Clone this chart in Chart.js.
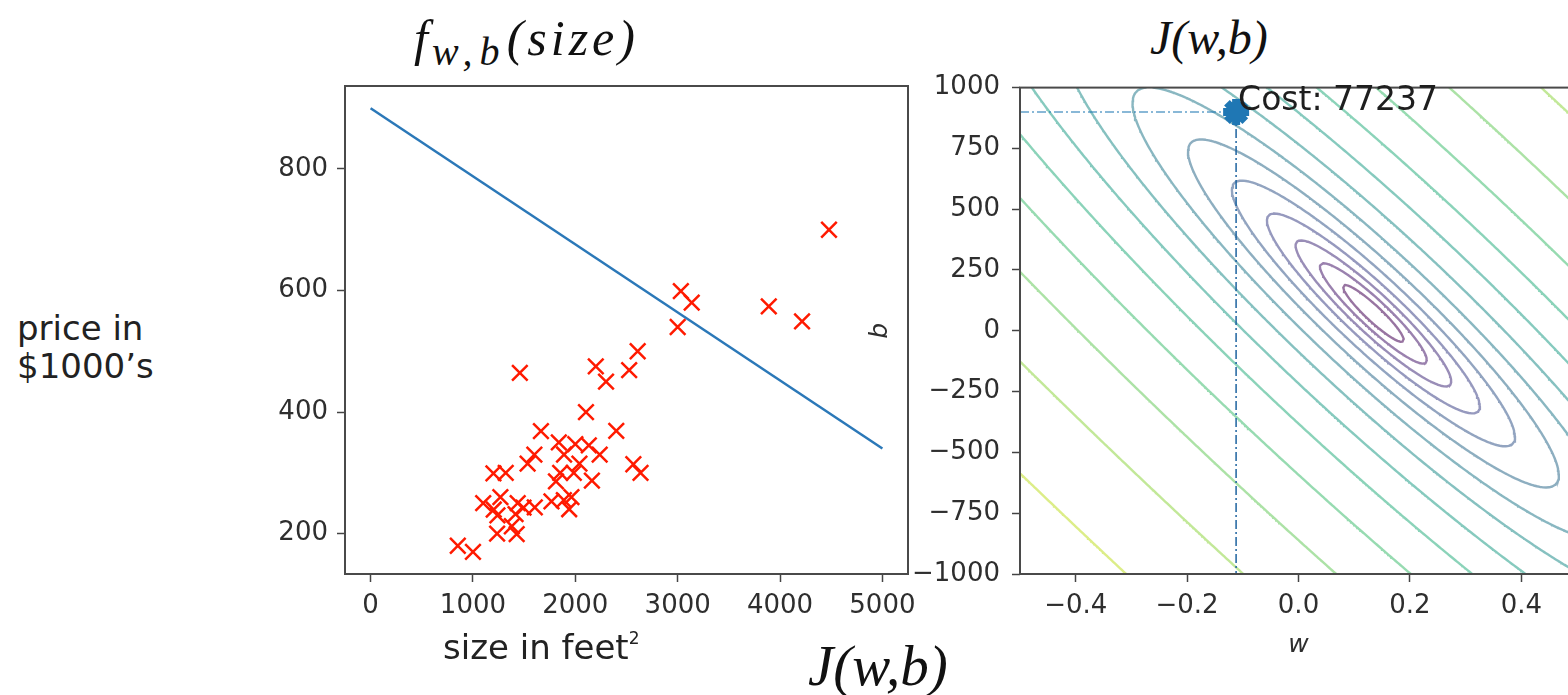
<!DOCTYPE html>
<html lang="en">
<head>
<meta charset="UTF-8">
<title>f(size) e J(w,b)</title>
<script src="https://cdn.jsdelivr.net/npm/chart.js"></script>
<style>
  html, body { margin: 0; padding: 0; background: #fff; }
  body { width: 1568px; height: 695px; overflow: hidden; position: relative; font-family: "DejaVu Sans", sans-serif; }
  .box { position: absolute; }
  #leftBox { left: 200px; top: 60px; width: 730px; height: 610px; }
  #rightBox { left: 860px; top: 60px; width: 740px; height: 620px; }
  .math { position: absolute; font-family: "Liberation Serif", serif; font-style: italic; color: #111; white-space: nowrap; line-height: 1; }
  .math sub { font-size: 0.8em; vertical-align: -0.26em; letter-spacing: 7px; margin-left: 4px; }
  .wide { letter-spacing: 4px; }
  .slide { position: absolute; font-size: 34px; color: #222; line-height: 38px; white-space: nowrap; }
  .slide sup { font-size: 0.5em; vertical-align: 0.9em; }
</style>
</head>
<body>
  <div class="math" style="left:414px; top:13px; font-size:50px;">f<sub>w,b</sub><span class="wide">(size)</span></div>
  <div class="math" style="left:1150px; top:14px; font-size:48px;">J(w,b)</div>
  <div class="slide" style="left:17px; top:309px;">price in<br>$1000’s</div>

  <div class="box" id="leftBox"><canvas id="leftChart"></canvas></div>
  <div class="box" id="rightBox"><canvas id="rightChart"></canvas></div>

  <div class="slide" style="left:443px; top:619px;">size in feet<sup>2</sup></div>
  <div class="math" style="left:808px; top:637px; font-size:57px;">J(w,b)</div>

<script>
    // dados das casas (tamanho em pés², preço em $1000)
    const sizes = [2104, 1600, 2400, 1416, 3000, 1985, 1534, 1427, 1380, 1494, 1940, 2000, 1890, 4478, 1268, 2300,
        1320, 1236, 2609, 3031, 1767, 1888, 1604, 1962, 3890, 1100, 1458, 2526, 2200, 2637, 1839, 1000,
        2040, 3137, 1811, 1437, 1239, 2132, 4215, 2162, 1664, 2238, 2567, 1200, 852, 1852, 1203];
    const prices = [399.9, 329.9, 369.0, 232.0, 539.9, 299.9, 314.9, 199.0, 212.0, 242.5, 240.0, 347.0, 330.0, 699.9, 259.9, 449.9,
        299.9, 199.9, 500.0, 599.0, 252.9, 255.0, 242.9, 259.9, 573.9, 249.9, 464.5, 469.0, 475.0, 299.9, 349.9, 169.9,
        314.9, 579.9, 285.9, 249.9, 229.9, 345.0, 549.0, 287.0, 368.5, 329.9, 314.0, 299.0, 179.9, 299.9, 239.5];

    // reta f_wb desenhada
    const lineX = [0, 5000];
    const lineY = [900, 340];

    const leftXTicks = [0, 1000, 2000, 3000, 4000, 5000];
    const leftXLabels = ['0', '1000', '2000', '3000', '4000', '5000'];
    const leftYTicks = [200, 400, 600, 800];
    const leftYLabels = ['200', '400', '600', '800'];
    const leftXRange = [-250, 5250];
    const leftYRange = [133.4, 936.5];

    // ponto atual no contorno
    const currentW = -0.112;
    const currentB = 900;
    const costText = 'Cost: 77237';

    const wTicks = [-0.4, -0.2, 0, 0.2, 0.4];
    const wLabels = ['\u22120.4', '\u22120.2', '0.0', '0.2', '0.4'];
    const bTicks = [-1000, -750, -500, -250, 0, 250, 500, 750, 1000];
    const bLabels = ['\u22121000', '\u2212750', '\u2212500', '\u2212250', '0', '250', '500', '750', '1000'];
    const wRange = [-0.5, 0.5];
    const bRange = [-1000, 1000];

    // niveis do contorno em ln(J)
    const levels = [8, 8.5, 9, 9.5, 10, 10.5, 11, 11.5, 12, 12.5, 13, 13.5, 14, 14.5];
    const colorRange = [8, 15.2];

    const viridis = ['#440154', '#482475', '#414487', '#355f8d', '#2a788e', '#21918c', '#22a884', '#44bf70', '#7ad151', '#bddf26', '#fde725'];

    function viridisColor(t, alpha) {
        const p = Math.max(0, Math.min(1, t)) * (viridis.length - 1);
        const i = Math.min(Math.floor(p), viridis.length - 2);
        const f = p - i;
        const c1 = parseInt(viridis[i].slice(1), 16), c2 = parseInt(viridis[i + 1].slice(1), 16);
        const ch = s => Math.round(((c1 >> s) & 255) * (1 - f) + ((c2 >> s) & 255) * f);
        return `rgba(${ch(16)},${ch(8)},${ch(0)},${alpha})`;
    }

    function cost(w, b) {
        let s = 0;
        for (let i = 0; i < sizes.length; i++) {
            const e = w * sizes[i] + b - prices[i];
            s += e * e;
        }
        return s / (2 * sizes.length);
    }

    // grade de ln(J) para o contorno
    const N = 181;
    const W = [], B = [], Z = [];
    for (let i = 0; i < N; i++) {
        W.push(wRange[0] + (wRange[1] - wRange[0]) * i / (N - 1));
        B.push(bRange[0] + (bRange[1] - bRange[0]) * i / (N - 1));
    }
    for (let i = 0; i < N; i++) {
        Z.push([]);
        for (let j = 0; j < N; j++) Z[i].push(Math.log(cost(W[i], B[j])));
    }

    function contourSegments(level) {
        const pts = [];
        for (let i = 0; i < N - 1; i++) {
            for (let j = 0; j < N - 1; j++) {
                const corners = [[i, j], [i + 1, j], [i + 1, j + 1], [i, j + 1]];
                const cross = [];
                for (let k = 0; k < 4; k++) {
                    const [i1, j1] = corners[k];
                    const [i2, j2] = corners[(k + 1) % 4];
                    const z1 = Z[i1][j1] - level, z2 = Z[i2][j2] - level;
                    if ((z1 < 0) !== (z2 < 0)) {
                        const t = z1 / (z1 - z2);
                        cross.push({ x: W[i1] + (W[i2] - W[i1]) * t, y: B[j1] + (B[j2] - B[j1]) * t });
                    }
                }
                for (let k = 0; k + 1 < cross.length; k += 2) {
                    pts.push(cross[k], cross[k + 1], { x: null, y: null });
                }
            }
        }
        return pts;
    }

    const tickFont = { family: 'DejaVu Sans', size: 26 };
    const tickColor = '#2e2e2e';

    function axisOpts(range, ticks, labels, fit) {
        return {
            type: 'linear',
            min: range[0],
            max: range[1],
            afterBuildTicks: s => { s.ticks = ticks.map(v => ({ value: v })); },
            afterFit: fit,
            ticks: {
                callback: (v, i) => labels[i],
                font: tickFont,
                color: tickColor,
                padding: 9,
                maxRotation: 0,
                autoSkip: false
            },
            grid: { display: true, drawOnChartArea: false, drawTicks: true, tickLength: 8, tickColor: '#444', tickWidth: 1.5 },
            border: { display: false }
        };
    }

    // moldura dos eixos (estilo matplotlib)
    const frame = {
        id: 'frame',
        afterDatasetsDraw(chart) {
            const a = chart.chartArea, ctx = chart.ctx;
            ctx.save();
            ctx.strokeStyle = '#4a4a4a';
            ctx.lineWidth = 2;
            ctx.strokeRect(a.left, a.top, a.right - a.left, a.bottom - a.top);
            ctx.restore();
        }
    };

    const costLabel = {
        id: 'costLabel',
        afterDraw(chart) {
            const ctx = chart.ctx;
            const x = chart.scales.x.getPixelForValue(currentW) + 2;
            const y = chart.scales.y.getPixelForValue(currentB);
            ctx.save();
            ctx.font = '33px "DejaVu Sans"';
            ctx.fillStyle = '#1e1e1e';
            ctx.textBaseline = 'bottom';
            ctx.fillText(costText, x, y + 6);
            ctx.restore();
        }
    };

    const common = {
        responsive: true,
        maintainAspectRatio: false,
        animation: false,
        events: [],
        plugins: { legend: { display: false }, tooltip: { enabled: false } }
    };

    new Chart(document.getElementById('leftChart'), {
        type: 'scatter',
        data: {
            datasets: [
                {
                    data: lineX.map((x, i) => ({ x: x, y: lineY[i] })),
                    showLine: true,
                    borderColor: '#2b78b8',
                    borderWidth: 2.5,
                    pointRadius: 0
                },
                {
                    data: sizes.map((x, i) => ({ x: x, y: prices[i] })),
                    pointStyle: 'crossRot',
                    pointRadius: 11,
                    borderColor: '#ff1a00',
                    borderWidth: 2.5,
                    backgroundColor: '#ff1a00'
                }
            ]
        },
        options: {
            ...common,
            layout: { padding: { left: 0, top: 26, right: 22, bottom: 0 } },
            scales: {
                x: axisOpts(leftXRange, leftXTicks, leftXLabels, s => { s.height = 96; }),
                y: axisOpts(leftYRange, leftYTicks, leftYLabels, s => { s.width = 145; })
            }
        },
        plugins: [frame]
    });

    const contourSets = levels.map(l => ({
        data: contourSegments(l),
        showLine: true,
        spanGaps: false,
        borderColor: viridisColor((l - colorRange[0]) / (colorRange[1] - colorRange[0]), 0.55),
        borderWidth: 2.4,
        borderCapStyle: 'round',
        pointRadius: 0,
        order: 3
    }));

    const rightX = axisOpts(wRange, wTicks, wLabels, s => { s.height = 106; });
    rightX.title = { display: true, text: 'w', font: { family: 'DejaVu Sans', size: 25, style: 'italic' }, color: tickColor, padding: { top: 0, bottom: 20 } };
    const rightY = axisOpts(bRange, bTicks, bLabels, s => { s.width = 160; });
    rightY.ticks.padding = 12;
    rightY.title = { display: true, text: 'b', font: { family: 'DejaVu Sans', size: 25, style: 'italic' }, color: tickColor, padding: { top: 5, bottom: 0 } };

    new Chart(document.getElementById('rightChart'), {
        type: 'scatter',
        data: {
            datasets: [
                {
                    data: [{ x: currentW, y: currentB }],
                    pointStyle: 'star',
                    pointRadius: 13,
                    borderColor: '#1f77b4',
                    backgroundColor: '#1f77b4',
                    borderWidth: 8,
                    clip: false,
                    order: 1
                },
                {
                    data: [{ x: wRange[0], y: currentB }, { x: currentW, y: currentB }],
                    showLine: true,
                    borderColor: 'rgba(31,119,180,0.7)',
                    borderWidth: 1.5,
                    borderDash: [9, 3, 2, 3],
                    pointRadius: 0,
                    order: 2
                },
                {
                    data: [{ x: currentW, y: currentB }, { x: currentW, y: bRange[0] }],
                    showLine: true,
                    borderColor: 'rgba(31,100,160,0.85)',
                    borderWidth: 1.8,
                    borderDash: [9, 3, 2, 3],
                    pointRadius: 0,
                    order: 2
                },
                ...contourSets
            ]
        },
        options: {
            ...common,
            layout: { padding: { left: 0, top: 27, right: 23, bottom: 0 } },
            scales: { x: rightX, y: rightY }
        },
        plugins: [frame, costLabel]
    });
</script>
</body>
</html>
